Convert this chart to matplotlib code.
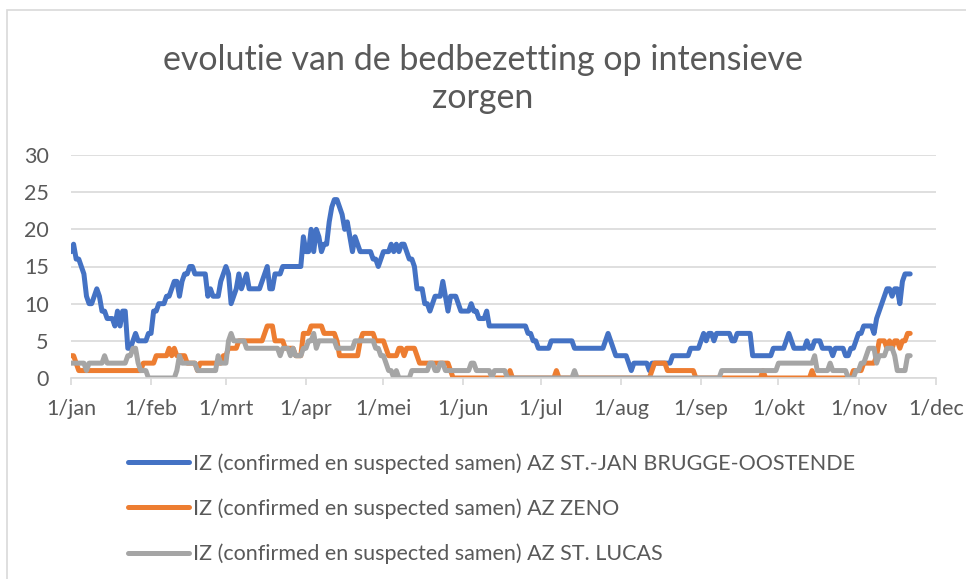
import numpy as np
import matplotlib
matplotlib.use("Agg")
import matplotlib.pyplot as plt
from matplotlib.lines import Line2D
from matplotlib.patches import Rectangle

# ---- data (daily values, 1 jan .. 21 nov) ----
blue_jan = [17,18,16,16,15,14,11,10,10,11,12,11,9,9,8,8,8,7,9,7,9,9,4,4,5,6,5,5,5,5,6]
blue_feb = [6,9,9,10,10,10,11,11,12,13,13,11,13,14,14,15,15,14,14,14,14,14,11,12,11,11,11,13,14]
blue_mar = [15,14,10,11,12,14,12,13,14,12,12,12,12,12,13,14,15,12,12,14,14,14,15,15,15,15,15,15,15,15,19]
blue_apr = [17,17,20,17,20,19,17,18,18,21,23,24,24,23,22,20,21,19,17,19,18,17,17,17,17,17,16,16,15,16]
blue_mei = [17,17,17,18,17,18,17,18,18,17,16,16,15,12,12,12,10,10,9,10,11,11,11,13,11,9,11,11,11,10,9]
blue_jun = [9,9,9,10,9,9,8,8,8,9,7,7,7,7,7,7,7,7,7,7,7,7,7,7,7,6,6,5,5,4]
blue_jul = [4,4,4,4,5,5,5,5,5,5,5,5,5,4,4,4,4,4,4,4,4,4,4,4,4,5,6,5,4,3,3]
blue_aug = [3,3,3,2,1,2,2,2,2,2,2,1,2,2,2,2,2,2,2,2,3,3,3,3,3,3,3,4,4,4,4]
blue_sep = [5,6,5,6,6,5,6,6,6,6,6,6,5,5,6,6,6,6,6,6,3,3,3,3,3,3,3,3,4,4]
blue_okt = [4,4,4,5,6,5,4,4,4,4,4,5,4,4,5,5,5,4,4,4,4,3,4,4,4,4,3,3,4,4,5]
blue_nov = [6,6,7,7,7,7,6,8,9,10,11,12,12,11,12,12,10,13,14,14,14]

orange_jan = [3,3,2] + [1]*25 + [2,2,2]
orange_feb = [2,2,3,3,3,3,3,4,3,4,3,3,3,3,2,2,2,2,1,2,2,2,2,2,2,2,2,2,3]
orange_mar = [3,4,4,4,4,5,5,5,5,5,5,5,5,5,5,6,7,7,7,5,5,5,5,4,4,4,4,3,3,3,6]
orange_apr = [6,6,7,7,7,7,7,6,6,6,6,6,5,3,3,3,3,3,3,3,3,5,6,6,6,6,6,5,5,5]
orange_mei = [5,4,3,3,3,3,4,4,3,4,4,4,4,3,2,2,2,2,2,2,2,2,2,2,2,2,1,0,0,0,0]
orange_jun = [0]*18 + [1] + [0]*11
orange_jul = [0]*6 + [1] + [0]*24
orange_aug = [0]*12 + [1,2,2,2,2,2] + [1]*11 + [0,0]
orange_sep = [0]*24 + [1] + [0]*5
orange_okt = [0]*13 + [1] + [0]*15 + [1,1]
orange_nov = [1,1,2,2,2,2,2,3,5,5,5,4,5,4,5,5,4,5,5,6,6]

gray_jan = [2,2,2,2,2,2,1,2,2,2,2,2,2,3,2,2,2,2,2,2,2,2,3,3,4,4,2,1,1,1,0]
gray_feb = [0]*10 + [1,3,2,2,2,2,2,2,1,1,1,1,1,1,1,1,3,2,2]
gray_mar = [2,5,6,5,5,5,5,5,4,4,4,4,4,4,4,4,4,4,4,4,4,3,4,4,4,3,4,3,3,3,4]
gray_apr = [4,5,5,6,4,5,5,5,5,5,5,5,4,4,4,4,4,4,4,5,5,5,5,5,5,5,5,4,4,3]
gray_mei = [3,2,1,1,0,1,0,0,0,0,0,1,1,1,1,1,1,1,2,2,1,1,2,2,1,1,1,1,1,1,1]
gray_jun = [1,1,1,2,2,1,1,1,1,1,1,0,1,1,1,1,1] + [0]*13
gray_jul = [0]*13 + [1] + [0]*17
gray_aug = [0]*31
gray_sep = [0]*8 + [1]*22
gray_okt = [2]*14 + [3,1,1,1,1,1,2,1,1,1,1,1,1,0,0,0,1]
gray_nov = [1,2,2,3,4,4,4,2,3,3,3,4,4,4,3,1,1,1,1,3,3]

blue = sum([blue_jan, blue_feb, blue_mar, blue_apr, blue_mei, blue_jun,
            blue_jul, blue_aug, blue_sep, blue_okt, blue_nov], [])
orange = sum([orange_jan, orange_feb, orange_mar, orange_apr, orange_mei, orange_jun,
              orange_jul, orange_aug, orange_sep, orange_okt, orange_nov], [])
gray = sum([gray_jan, gray_feb, gray_mar, gray_apr, gray_mei, gray_jun,
            gray_jul, gray_aug, gray_sep, gray_okt, gray_nov], [])

month_names = ['jan', 'feb', 'mrt', 'apr', 'mei', 'jun', 'jul', 'aug', 'sep', 'okt', 'nov', 'dec']
series_labels = [
    "IZ (confirmed en suspected samen) AZ ST.-JAN BRUGGE-OOSTENDE",
    "IZ (confirmed en suspected samen) AZ ZENO",
    "IZ (confirmed en suspected samen) AZ ST. LUCAS",
]
title = "evolutie van de bedbezetting op intensieve\nzorgen"
y_ticks = [0, 5, 10, 15, 20, 25, 30]

start = np.datetime64('2020-01-01')
dates = start + np.arange(len(blue))
month_starts = [np.datetime64('2020-%02d-01' % m) for m in range(1, 13)]

# ---- styling ----
plt.rcParams['font.family'] = ['Lato', 'DejaVu Sans']
txt = '#595959'
grid_c = '#D9D9D9'
colors = ['#4472C4', '#ED7D31', '#A5A5A5']

W, H = 966, 579
fig = plt.figure(figsize=(W / 100, H / 100), dpi=100)
fig.patches.append(Rectangle((7 / W, -0.1), 1.2, 1.1 - 10 / H, transform=fig.transFigure,
                             fill=False, edgecolor=grid_c, lw=1.2))

ax = fig.add_axes([71 / W, 1 - 378 / H, (936 - 71) / W, (378 - 155) / H])
for vals, c in zip([blue, orange, gray], colors):
    ax.plot(dates, vals, color=c, lw=3.6, solid_joinstyle='round', solid_capstyle='round')

ax.set_xlim(month_starts[0], month_starts[-1])
ax.set_ylim(0, 30)
ax.set_yticks(y_ticks)
ax.set_xticks(month_starts)
ax.set_xticklabels(['1/' + m for m in month_names])
ax.grid(axis='y', color=grid_c, lw=1.2)
ax.set_axisbelow(True)
for s in ['left', 'top', 'right']:
    ax.spines[s].set_visible(False)
ax.spines['bottom'].set_color(grid_c)
ax.spines['bottom'].set_linewidth(1.2)
ax.tick_params(axis='y', length=0, pad=16, labelsize=15.5, labelcolor=txt)
ax.tick_params(axis='x', length=5, width=1.2, color=grid_c, pad=10, labelsize=15.5, labelcolor=txt)

fig.text(0.5, 1 - 79 / H, title, ha='center', va='center', fontsize=24.5, color=txt,
         linespacing=1.25)

handles = [Line2D([0], [0], color=c, lw=3.6, solid_capstyle='round') for c in colors]
leg = fig.legend(handles, series_labels, loc='upper left',
                 bbox_to_anchor=(128 / W, 1 - 453 / H), frameon=False,
                 fontsize=15.5, labelcolor=txt, handlelength=2.85, handletextpad=0.15,
                 labelspacing=1.15, borderaxespad=0, borderpad=0)

fig.savefig('out.png', dpi=100)
